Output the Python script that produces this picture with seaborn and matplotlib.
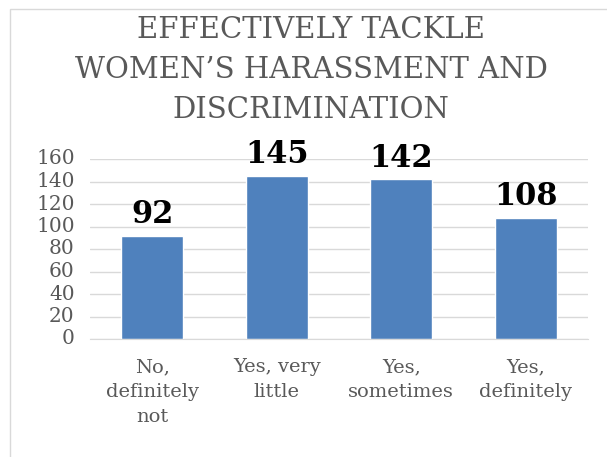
import matplotlib
matplotlib.use("Agg")
import matplotlib.pyplot as plt
import seaborn as sns
import pandas as pd
from matplotlib.patches import Rectangle

# -------------------------------
# DATA
# -------------------------------
categories = ["No,\ndefinitely\nnot", "Yes, very\nlittle", "Yes,\nsometimes", "Yes,\ndefinitely"]
counts = [92, 145, 142, 108]
title_lines = ["EFFECTIVELY TACKLE", "WOMEN\u2019S HARASSMENT AND", "DISCRIMINATION"]
y_ticks = [0, 20, 40, 60, 80, 100, 120, 140, 160]

df = pd.DataFrame({"answer": categories, "count": counts})

# -------------------------------
# STYLE
# -------------------------------
sns.set_style("white")
plt.rcParams["font.family"] = ["DejaVu Serif"]
grey = "#595959"
W, H = 607, 457

fig = plt.figure(figsize=(W / 100, H / 100), dpi=100)
ax = fig.add_axes([90 / W, 1 - 339 / H, 498 / W, 180 / H])

sns.barplot(data=df, x="answer", y="count", color="#4F81BD", saturation=1,
            width=0.5, ax=ax)

ax.set_ylim(0, 160)
ax.set_xlim(-0.5, 3.5)
ax.set_yticks(y_ticks)
ax.yaxis.grid(True, color="#D9D9D9", linewidth=1)
ax.set_axisbelow(True)
ax.set_xlabel("")
ax.set_ylabel("")
for s in ["top", "right", "left"]:
    ax.spines[s].set_visible(False)
ax.spines["bottom"].set_color("#D9D9D9")
ax.tick_params(axis="y", length=0, pad=11, labelsize=14.5, labelcolor=grey)
ax.tick_params(axis="x", length=0, pad=14, labelsize=14, labelcolor=grey)
for t in ax.get_yticklabels():
    t.set_verticalalignment("center")
for t in ax.get_xticklabels():
    t.set_linespacing(1.5)

# data labels
for i, v in enumerate(counts):
    ax.annotate(str(v), (i, v), xytext=(0, 4), textcoords="offset points",
                ha="center", va="bottom", fontsize=22, fontweight="bold",
                color="black")

# title, one line at a time
for k, line in enumerate(title_lines):
    fig.text(311 / W, 1 - (38 + 40 * k) / H, line, ha="center", va="baseline",
             fontsize=21, color=grey)

# chart frame (only top and left edges show)
fig.patches.append(Rectangle((10 / W, -0.1), 1.2, 1 - 9 / H + 0.1,
                             transform=fig.transFigure, fill=False,
                             edgecolor="#D9D9D9", linewidth=1))

fig.savefig("out.png", dpi=100)
